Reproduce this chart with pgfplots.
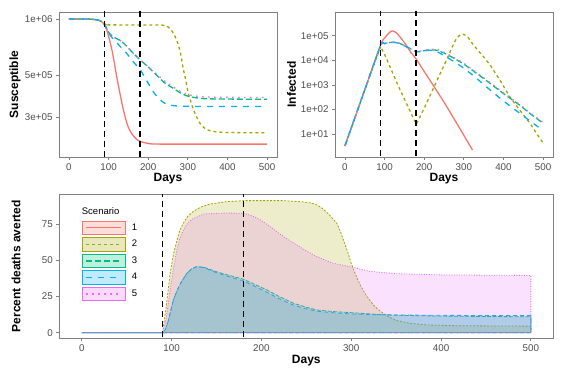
\documentclass[border=0pt]{standalone}
\usepackage{fontspec}
\setmainfont{Liberation Sans}
\usepackage{pgfplots}
\pgfplotsset{compat=1.18}
\definecolor{c1}{HTML}{F8766D}
\definecolor{c2}{HTML}{A3A500}
\definecolor{c3}{HTML}{00BF7D}
\definecolor{c4}{HTML}{00B0F6}
\definecolor{c5}{HTML}{E76BF3}
\tikzset{
 s1/.style={c1, line width=1.3pt},
 s2/.style={c2, line width=1.3pt, dash pattern=on 3pt off 3pt},
 s3/.style={c3, line width=1.3pt, dash pattern=on 6pt off 3pt},
 s4/.style={c4, line width=1.3pt, dash pattern=on 6pt off 6pt},
 s5/.style={c5, line width=1.3pt, dash pattern=on 1.5pt off 4.5pt},
 b1/.style={c1, line width=0.8pt},
 b2/.style={c2, line width=0.8pt, dash pattern=on 2pt off 1.5pt},
 b3/.style={c3, line width=0.8pt, dash pattern=on 4pt off 1.5pt},
 b4/.style={c4, line width=0.8pt, dash pattern=on 4pt off 3pt},
 b5/.style={c5, line width=0.8pt, dash pattern=on 1pt off 1.5pt},
 vl/.style={black, line width=1.6pt, dash pattern=on 6pt off 4pt},
}
\pgfplotsset{
 ggbase/.style={
  scale only axis, anchor=south west,
  axis line style={draw=black!50, line width=0.8pt},
  tick style={draw=black!50, line width=0.8pt},
  tick align=outside, major tick length=3pt, tick pos=left,
  ticklabel style={font=\fontsize{9.8}{11}\selectfont, text=black!70},
  label style={font=\fontsize{12}{14}\selectfont\bfseries},
  /pgf/number format/assume math mode=true,
  xmin=-25, xmax=525, xtick={0,100,...,500},
  xlabel={Days},
  clip=true,
 },
}
\begin{document}
\begin{tikzpicture}
\path[use as bounding box] (0,0) rectangle (585pt,372pt);
% ---------------- Susceptible ----------------
\begin{axis}[ggbase, at={(59pt,215pt)}, width=218pt, height=145pt,
  ymode=log, ymin=1.845e5, ymax=1.089e6,
  ytick={3e5,5e5,1e6}, yticklabels={3e+05,5e+05,1e+06}, yminorticks=false,
  ylabel={Susceptible},
  ylabel style={at={(axis description cs:-0.202,0.5)}, anchor=center},
  xlabel style={at={(axis description cs:0.5,-0.152)}, anchor=center}]
\addplot[s1, smooth, tension=0.4] coordinates {(0,1e6) (50,0.998e6) (70,0.99e6) (80,0.975e6) (90,0.935e6) (95,0.88e6) (100,0.81e6) (105,0.74e6) (110,0.66e6) (115,0.58e6) (120,0.5e6) (127,0.42e6) (134,0.355e6) (142,0.3e6) (150,0.265e6) (160,0.243e6) (170,0.23e6) (180,0.223e6) (200,0.218e6) (230,0.216e6) (500,0.216e6)};
\addplot[s2, smooth, tension=0.4] coordinates {(0,1e6) (50,0.998e6) (70,0.99e6) (80,0.975e6) (90,0.94e6) (95,0.932e6) (100,0.93e6) (230,0.928e6) (245,0.918e6) (255,0.89e6) (265,0.83e6) (275,0.74e6) (282,0.65e6) (288,0.55e6) (295,0.47e6) (301,0.405e6) (310,0.35e6) (318,0.315e6) (330,0.28e6) (343,0.262e6) (360,0.253e6) (400,0.249e6) (500,0.248e6)};
\addplot[s3, smooth, tension=0.4] coordinates {(0,1e6) (50,0.998e6) (70,0.99e6) (80,0.975e6) (90,0.935e6) (100,0.85e6) (110,0.81e6) (120,0.787e6) (130,0.767e6) (145,0.72e6) (160,0.665e6) (180,0.605e6) (200,0.555e6) (221,0.503e6) (240,0.46e6) (263,0.428e6) (285,0.4e6) (305,0.386e6) (340,0.377e6) (400,0.375e6) (500,0.374e6)};
\addplot[s4, smooth, tension=0.4] coordinates {(0,1e6) (50,0.998e6) (70,0.99e6) (80,0.975e6) (90,0.935e6) (100,0.84e6) (110,0.79e6) (120,0.75e6) (130,0.712e6) (145,0.66e6) (160,0.6e6) (180,0.536e6) (195,0.475e6) (213,0.41e6) (228,0.375e6) (242,0.356e6) (260,0.347e6) (300,0.343e6) (500,0.342e6)};
\addplot[s5, smooth, tension=0.4] coordinates {(0,1e6) (50,0.998e6) (70,0.99e6) (80,0.975e6) (90,0.935e6) (100,0.85e6) (110,0.81e6) (120,0.787e6) (130,0.767e6) (145,0.72e6) (160,0.665e6) (180,0.605e6) (200,0.557e6) (221,0.51e6) (240,0.47e6) (263,0.435e6) (285,0.408e6) (305,0.394e6) (340,0.385e6) (400,0.383e6) (500,0.382e6)};
\addplot[vl, forget plot] coordinates {(90,1e5) (90,2e6)};
\addplot[vl, forget plot] coordinates {(180,1e5) (180,2e6)};
\end{axis}
% ---------------- Infected ----------------
\begin{axis}[ggbase, at={(335pt,215pt)}, width=218pt, height=145pt,
  ymode=log, ymin=1.175, ymax=9.3e5,
  ytick={10,100,1000,10000,100000}, yticklabels={1e+01,1e+02,1e+03,1e+04,1e+05}, yminorticks=false,
  ylabel={Infected},
  ylabel style={at={(axis description cs:-0.199,0.5)}, anchor=center},
  xlabel style={at={(axis description cs:0.5,-0.152)}, anchor=center}]
\addplot[s1, smooth, tension=0.4] coordinates {(0,3.3) (45,372) (90,42658) (100,79400) (110,126000) (119,158000) (130,132000) (148,58900) (165,22900) (180,11200) (200,3548) (250,200) (291,15.8) (322,2.24)};
\addplot[s2] coordinates {(0,3.3) (45,372) (90,36300) (100,17800) (135,891) (180,25) (200,112) (220,562) (240,2818) (260,14100) (275,50000) (282,79400) (288,100000) (295,120000) (302,110000) (310,89000) (324,42700) (349,14500) (366,6607) (391,1585) (416,331) (441,95.5) (467,27.5) (492,6.6) (500,4.47)};
\addplot[s3, smooth, tension=0.4] coordinates {(0,3.3) (45,372) (90,39800) (100,47900) (110,52500) (125,55000) (140,47900) (160,33100) (180,22900) (195,24000) (215,26900) (235,25100) (260,16600) (282,10500) (300,7079) (330,3162) (366,1175) (400,447) (441,151) (470,63) (500,28.2)};
\addplot[s4, smooth, tension=0.4] coordinates {(0,3.3) (45,372) (90,39800) (100,47900) (110,52500) (125,54000) (140,47000) (160,32500) (180,22400) (195,23500) (215,25700) (235,21400) (260,12600) (282,7586) (300,4786) (330,1995) (366,631) (400,224) (441,70.8) (470,31.6) (500,14.1)};
\addplot[s5, smooth, tension=0.4] coordinates {(0,3.3) (45,372) (90,39800) (100,47900) (110,52500) (125,55500) (140,48500) (160,33500) (180,23200) (195,24500) (215,28000) (235,26900) (260,17800) (282,11200) (300,7586) (330,3388) (366,1259) (400,479) (441,162) (470,68) (500,30.2)};
\addplot[vl, forget plot] coordinates {(90,0.5) (90,2e6)};
\addplot[vl, forget plot] coordinates {(180,0.5) (180,2e6)};
\end{axis}
% ---------------- Percent deaths averted ----------------
\begin{axis}[ggbase, at={(59.3pt,33.7pt)}, width=494pt, height=144.3pt,
  ymin=-3.9, ymax=96, ytick={0,25,50,75},
  ylabel={Percent deaths averted},
  ylabel style={at={(axis description cs:-0.0877,0.5)}, anchor=center},
  xlabel style={at={(axis description cs:0.5,-0.157)}, anchor=center},
  legend style={at={(rel axis cs:0.0453,0.815)}, anchor=north west, draw=none, fill=none,
    inner sep=0pt, outer sep=0pt, row sep=2.2pt, column sep=5.5pt,
    nodes={inner sep=0.8pt, font=\fontsize{9.5}{10}\selectfont}},
  legend cell align=left]
\addplot[b1, forget plot] coordinates {(0,0) (500,0)};
\addplot[b2, fill=c2, fill opacity=0.2, forget plot] coordinates {(0,0) (90,0) (94,18) (98.4,41) (102,54) (106,64) (109,70.5) (113,75.7) (118,80.5) (124,83.8) (132,86.8) (143,89.1) (160,90.6) (180,91.4) (225,91.4) (245,90.6) (255,89.8) (262,88.4) (268,86) (275,82) (280,78.5) (284,75.7) (288,70) (292,63) (296,56) (300,48) (305,40) (310,33) (315,27.5) (320,23) (325,19) (330,16) (340,11.5) (350,8.5) (365,6.5) (385,5.3) (420,4.8) (500,4.5)} \closedcycle;
\addplot[b3, fill=c3, fill opacity=0.2, forget plot] coordinates {(0,0) (90,0) (93,2) (96.6,8.8) (99,15) (102,22.6) (106,29) (110,34.2) (117,41.1) (122,44) (128,45.7) (136,45.3) (150,42.2) (165,39.5) (180,37) (193,33.3) (206,29.6) (220,25) (236,20.3) (250,17.6) (262,15.7) (280,14.6) (299,13.9) (330,12.6) (360,11.9) (400,11.5) (450,11.2) (500,11)} \closedcycle;
\addplot[b4, fill=c4, fill opacity=0.2, forget plot] coordinates {(0,0) (90,0) (93,2) (96.6,8.8) (99,15) (102,22.6) (106,29) (110,34.2) (117,41) (122,44) (128,45.8) (136,45) (150,41.5) (165,38.5) (180,35.8) (193,32) (206,28) (220,23.5) (236,19) (250,16.5) (262,14.8) (280,13.8) (299,13) (330,12.4) (360,12.2) (400,12) (450,11.9) (500,11.8)} \closedcycle;
\addplot[b5, fill=c5, fill opacity=0.2, forget plot] coordinates {(0,0) (90,0) (94,10) (98.4,29.6) (102,44) (106,57.5) (109,65) (113,71) (118,76) (124,79) (136,82.2) (160,82.8) (180,82.7) (190,80.8) (199,78) (208,74.2) (217,70) (226,66) (236,62) (249,57) (262,52.6) (280,48) (299,45.7) (320,42.5) (350,40.8) (400,40) (500,39.6)} \closedcycle;
\addplot[vl, forget plot] coordinates {(90,-10) (90,110)};
\addplot[vl, forget plot] coordinates {(180,-10) (180,110)};
\addlegendimage{legend image code/.code={\draw[draw=c1, fill=c1, fill opacity=0.25, line width=0.8pt] (0pt,-6.75pt) rectangle (43pt,6.75pt); \draw[s1] (4pt,0pt) -- (39pt,0pt);}}
\addlegendentry{1}
\addlegendimage{legend image code/.code={\draw[draw=c2, fill=c2, fill opacity=0.25, line width=0.8pt] (0pt,-6.75pt) rectangle (43pt,6.75pt); \draw[s2] (4pt,0pt) -- (39pt,0pt);}}
\addlegendentry{2}
\addlegendimage{legend image code/.code={\draw[draw=c3, fill=c3, fill opacity=0.25, line width=0.8pt] (0pt,-6.75pt) rectangle (43pt,6.75pt); \draw[s3] (4pt,0pt) -- (39pt,0pt);}}
\addlegendentry{3}
\addlegendimage{legend image code/.code={\draw[draw=c4, fill=c4, fill opacity=0.25, line width=0.8pt] (0pt,-6.75pt) rectangle (43pt,6.75pt); \draw[s4] (4pt,0pt) -- (39pt,0pt);}}
\addlegendentry{4}
\addlegendimage{legend image code/.code={\draw[draw=c5, fill=c5, fill opacity=0.25, line width=0.8pt] (0pt,-6.75pt) rectangle (43pt,6.75pt); \draw[s5] (4pt,0pt) -- (39pt,0pt);}}
\addlegendentry{5}
\node[anchor=west, font=\fontsize{9.5}{10}\selectfont, inner sep=0pt] at (rel axis cs:0.0453,0.882) {Scenario};
\end{axis}
\end{tikzpicture}
\end{document}
